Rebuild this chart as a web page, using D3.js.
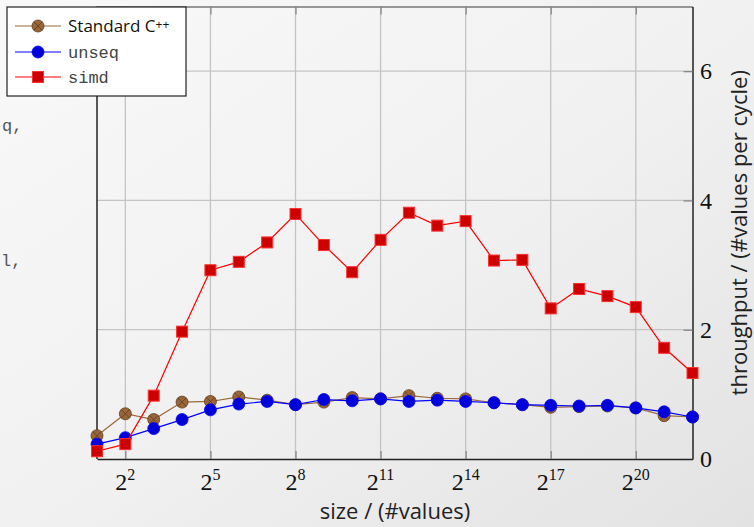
<!DOCTYPE html>
<html>
<head>
<meta charset="utf-8">
<script src="https://cdn.jsdelivr.net/npm/d3@7"></script>
<style>
  html, body { margin: 0; padding: 0; background: #ececec; }
  svg { display: block; }
</style>
</head>
<body>
<svg id="chart" width="754" height="527"></svg>
<script>
'use strict'; //strict mode: catch silly errors

// sizes are powers of two, store the exponent
var exponents = [1, 2, 3, 4, 5, 6, 7, 8, 9, 10, 11, 12, 13, 14, 15, 16, 17, 18, 19, 20, 21, 22];
var xTicks = [2, 5, 8, 11, 14, 17, 20];
var yTicks = [0, 2, 4, 6];

// throughput in values per cycle
var standardCpp = [0.36, 0.70, 0.61, 0.88, 0.89, 0.96, 0.91, 0.84, 0.88, 0.95, 0.93,
                   0.98, 0.94, 0.93, 0.87, 0.84, 0.80, 0.81, 0.82, 0.79, 0.67, 0.65];
var unseq = [0.23, 0.33, 0.47, 0.61, 0.76, 0.85, 0.89, 0.84, 0.92, 0.90, 0.93,
             0.89, 0.91, 0.89, 0.87, 0.84, 0.83, 0.82, 0.83, 0.79, 0.73, 0.65];
var simd = [0.12, 0.23, 0.98, 1.97, 2.92, 3.05, 3.35, 3.79, 3.31, 2.89, 3.39,
            3.81, 3.61, 3.68, 3.07, 3.08, 2.33, 2.63, 2.52, 2.35, 1.72, 1.33];

var seriesNames = ['Standard C', 'unseq', 'simd'];

var svg = d3.select('#chart');

// slide background, light top left, darker bottom right
var defs = svg.append('defs');
var grad = defs.append('linearGradient')
	.attr('id', 'bg')
	.attr('x1', 0).attr('y1', 0).attr('x2', 1).attr('y2', 1);
grad.append('stop').attr('offset', 0).attr('stop-color', '#f9f9f9');
grad.append('stop').attr('offset', 0.55).attr('stop-color', '#f0f0f0');
grad.append('stop').attr('offset', 1).attr('stop-color', '#e2e2e2');

svg.append('rect')
	.attr('width', 754).attr('height', 527)
	.attr('fill', 'url(#bg)');

// leftover slide text peeking out behind the chart
svg.append('text')
	.attr('x', 2).attr('y', 131)
	.style('font-family', '"Liberation Mono", monospace')
	.style('font-size', '17px')
	.attr('fill', '#555')
	.text('q,');
svg.append('text')
	.attr('x', 1).attr('y', 266)
	.style('font-family', '"Liberation Mono", monospace')
	.style('font-size', '17px')
	.attr('fill', '#555')
	.text('l,');

var x = d3.scaleLinear().domain([1, 22]).range([97, 692.5]);
var y = d3.scaleLinear().domain([0, 7]).range([459, 6.5]);

// grid
var grid = svg.append('g');
grid.selectAll('line.v')
	.data(xTicks)
	.enter().append('line')
	.attr('x1', function(d){ return x(d); })
	.attr('x2', function(d){ return x(d); })
	.attr('y1', y(0)).attr('y2', y(7))
	.attr('stroke', '#c4c4c4')
	.attr('stroke-width', 1.3);
grid.selectAll('line.h')
	.data(yTicks.filter(function(d){ return d > 0; }))
	.enter().append('line')
	.attr('x1', x(1)).attr('x2', x(22))
	.attr('y1', function(d){ return y(d); })
	.attr('y2', function(d){ return y(d); })
	.attr('stroke', '#c4c4c4')
	.attr('stroke-width', 1.3);

// axes, ticks pointing into the plot
var xAxisBottom = d3.axisBottom(x).tickValues(xTicks).tickSizeInner(-8).tickSizeOuter(0).tickFormat('');
var xAxisTop = d3.axisTop(x).tickValues(xTicks).tickSizeInner(-8).tickSizeOuter(0).tickFormat('');
var yAxisRight = d3.axisRight(y).tickValues(yTicks.filter(function(d){ return d > 0; }))
	.tickSizeInner(-9).tickSizeOuter(0).tickFormat('');

var gBottom = svg.append('g').attr('transform', 'translate(0,' + y(0) + ')').call(xAxisBottom);
var gTop = svg.append('g').attr('transform', 'translate(0,' + y(7) + ')').call(xAxisTop);
var gRight = svg.append('g').attr('transform', 'translate(' + x(22) + ',0)').call(yAxisRight);
[gBottom, gTop, gRight].forEach(function(g){
	g.selectAll('.tick line').attr('stroke', '#888').attr('stroke-width', 1.3);
});
gTop.select('.domain').attr('stroke', '#777').attr('stroke-width', 1.5);
gBottom.select('.domain').attr('stroke', '#222').attr('stroke-width', 1.5);
gRight.select('.domain').attr('stroke', '#222').attr('stroke-width', 1.5);
svg.append('line')
	.attr('x1', x(1)).attr('x2', x(1))
	.attr('y1', y(0)).attr('y2', y(7))
	.attr('stroke', '#222').attr('stroke-width', 1.5);

// x tick labels 2^n
var xLabels = svg.append('g')
	.style('font-family', '"Liberation Serif", serif')
	.attr('fill', '#111');
xTicks.forEach(function(d){
	var t = xLabels.append('text')
		.attr('x', x(d)).attr('y', 490)
		.attr('text-anchor', 'middle');
	t.append('tspan').style('font-size', '24px').text('2');
	t.append('tspan').style('font-size', '16px').attr('dy', -10).text(d);
});

// y tick labels on the right
svg.append('g')
	.style('font-family', '"Liberation Serif", serif')
	.style('font-size', '24px')
	.attr('fill', '#111')
	.selectAll('text')
	.data(yTicks)
	.enter().append('text')
	.attr('x', 700)
	.attr('y', function(d){ return y(d); })
	.attr('dy', '0.34em')
	.text(function(d){ return d; });

// axis titles
svg.append('text')
	.attr('x', 395).attr('y', 519)
	.attr('text-anchor', 'middle')
	.style('font-family', '"Open Sans", sans-serif')
	.style('font-size', '22px')
	.attr('fill', '#222')
	.text('size / (#values)');
svg.append('text')
	.attr('transform', 'translate(747,' + ((y(0) + y(7)) / 2) + ') rotate(-90)')
	.attr('text-anchor', 'middle')
	.style('font-family', '"Open Sans", sans-serif')
	.style('font-size', '22px')
	.attr('fill', '#222')
	.text('throughput / (#values per cycle)');

// series
var line = d3.line()
	.x(function(d){ return x(d.e); })
	.y(function(d){ return y(d.v); });

function toPoints(values){
	return exponents.map(function(e, i){ return {e: e, v: values[i]}; });
}

var styles = [
	{values: standardCpp, line: '#9a6a3a', fill: '#99663a', stroke: '#5e3b1c', mark: 'otimes'},
	{values: unseq, line: '#0000ff', fill: '#0000d8', stroke: '#0000ff', mark: 'circle'},
	{values: simd, line: '#ff0000', fill: '#cc0000', stroke: '#ff3030', mark: 'square'}
];

function drawMark(g, s, cx, cy){
	if(s.mark === 'square'){
		g.append('rect')
			.attr('x', cx - 5.5).attr('y', cy - 5.5)
			.attr('width', 11).attr('height', 11)
			.attr('fill', s.fill).attr('stroke', s.stroke).attr('stroke-width', 1);
	}
	else {
		g.append('circle')
			.attr('cx', cx).attr('cy', cy).attr('r', 6)
			.attr('fill', s.fill).attr('stroke', s.stroke).attr('stroke-width', 0.8);
		if(s.mark === 'otimes'){
			var k = 4.2;
			g.append('path')
				.attr('d', 'M' + (cx - k) + ',' + (cy - k) + 'L' + (cx + k) + ',' + (cy + k) +
					'M' + (cx - k) + ',' + (cy + k) + 'L' + (cx + k) + ',' + (cy - k))
				.attr('stroke', s.stroke).attr('stroke-width', 0.8);
		}
	}
}

styles.forEach(function(s){
	var pts = toPoints(s.values);
	var g = svg.append('g');
	g.append('path')
		.attr('d', line(pts))
		.attr('fill', 'none')
		.attr('stroke', s.line)
		.attr('stroke-width', 1.2);
	pts.forEach(function(p){
		drawMark(g, s, x(p.e), y(p.v));
	});
});

// legend
var legend = svg.append('g');
legend.append('rect')
	.attr('x', 7).attr('y', 7)
	.attr('width', 179).attr('height', 89)
	.attr('fill', '#fff')
	.attr('stroke', '#222')
	.attr('stroke-width', 1.2);

var rowY = [26, 52, 77];
styles.forEach(function(s, i){
	legend.append('line')
		.attr('x1', 15).attr('x2', 61)
		.attr('y1', rowY[i]).attr('y2', rowY[i])
		.attr('stroke', s.line).attr('stroke-width', 1.2);
	drawMark(legend, s, 38, rowY[i]);
	var t = legend.append('text')
		.attr('x', 68).attr('y', rowY[i])
		.attr('dy', '0.35em');
	if(i === 0){
		t.style('font-family', '"Open Sans", sans-serif')
			.style('font-size', '17px')
			.attr('fill', '#111')
			.text(seriesNames[i]);
		t.append('tspan').style('font-size', '12px').attr('dy', -3).text('++');
	}
	else {
		t.style('font-family', '"Liberation Mono", monospace')
			.style('font-size', '17px')
			.attr('fill', '#444')
			.text(seriesNames[i]);
	}
});
</script>
</body>
</html>
